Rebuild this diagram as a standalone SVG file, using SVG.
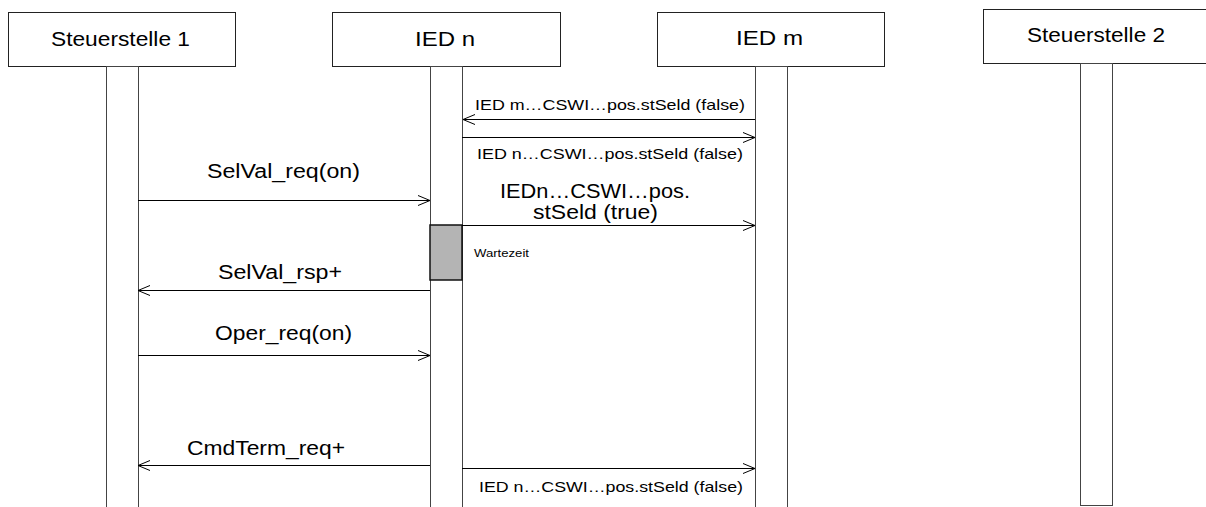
<svg xmlns="http://www.w3.org/2000/svg" width="1206" height="507" viewBox="0 0 1206 507">
  <style>
    text { font-family: "Liberation Sans", Arial, sans-serif; fill: #000; }
    .title { font-size: 20px; }
    .msg { font-size: 20px; }
    .small { font-size: 15px; }
    .tiny { font-size: 10px; }
    .box { fill: #fff; stroke: #222; stroke-width: 1; }
    .bar { fill: #fff; stroke: #444; stroke-width: 1; }
    .wait { fill: #b4b4b4; stroke: #111; stroke-width: 1.5; }
    .arrow { stroke: #000; stroke-width: 1; fill: none; marker-end: url(#open); }
  </style>
  <defs>
    <marker id="open" viewBox="0 0 12 12" refX="12" refY="6" markerWidth="12" markerHeight="12" markerUnits="userSpaceOnUse" orient="auto">
      <path d="M0,1 L12,6 L0,11" fill="none" stroke="#000" stroke-width="1"/>
    </marker>
  </defs>
  <rect width="1206" height="507" fill="#fff"/>

  <g id="steuerstelle1">
    <rect class="box" x="8.5" y="12.5" width="227" height="54"/>
    <text class="title" x="51" y="46" textLength="139" lengthAdjust="spacingAndGlyphs">Steuerstelle 1</text>
    <rect class="bar" x="106.5" y="66.5" width="32" height="445"/>
  </g>

  <g id="iedn">
    <rect class="box" x="332.5" y="12.5" width="228" height="54"/>
    <text class="title" x="415" y="46" textLength="60" lengthAdjust="spacingAndGlyphs">IED n</text>
    <rect class="bar" x="430.5" y="66.5" width="32" height="445"/>
  </g>

  <g id="iedm">
    <rect class="box" x="657.5" y="12.5" width="227" height="54"/>
    <text class="title" x="736" y="45" textLength="67" lengthAdjust="spacingAndGlyphs">IED m</text>
    <rect class="bar" x="755.5" y="66.5" width="32" height="445"/>
  </g>

  <g id="steuerstelle2">
    <rect class="box" x="983.5" y="9.5" width="230" height="54"/>
    <text class="title" x="1027" y="42" textLength="138" lengthAdjust="spacingAndGlyphs">Steuerstelle 2</text>
    <rect class="bar" x="1080.5" y="63.5" width="32" height="442"/>
  </g>

  <g id="wartezeit">
    <rect class="wait" x="430" y="225" width="32" height="55"/>
    <text class="tiny" x="474" y="257" textLength="55" lengthAdjust="spacingAndGlyphs">Wartezeit</text>
  </g>

  <g id="connectors">
    <line class="arrow" x1="755" y1="119.5" x2="463" y2="119.5"/>
    <text class="small" x="475" y="110" textLength="270" lengthAdjust="spacingAndGlyphs">IED m…CSWI…pos.stSeld (false)</text>

    <line class="arrow" x1="462" y1="137.5" x2="755" y2="137.5"/>
    <text class="small" x="477" y="159" textLength="266" lengthAdjust="spacingAndGlyphs">IED n…CSWI…pos.stSeld (false)</text>

    <line class="arrow" x1="138" y1="200.5" x2="430" y2="200.5"/>
    <text class="msg" x="207" y="178" textLength="153" lengthAdjust="spacingAndGlyphs">SelVal_req(on)</text>

    <line class="arrow" x1="462" y1="225.5" x2="755" y2="225.5"/>
    <text class="msg" x="500" y="198" textLength="190" lengthAdjust="spacingAndGlyphs">IEDn…CSWI…pos.</text>
    <text class="msg" x="533" y="219" textLength="125" lengthAdjust="spacingAndGlyphs">stSeld (true)</text>

    <line class="arrow" x1="430" y1="290.5" x2="138" y2="290.5"/>
    <text class="msg" x="218" y="279" textLength="124" lengthAdjust="spacingAndGlyphs">SelVal_rsp+</text>

    <line class="arrow" x1="138" y1="355.5" x2="430" y2="355.5"/>
    <text class="msg" x="215" y="340" textLength="137" lengthAdjust="spacingAndGlyphs">Oper_req(on)</text>

    <line class="arrow" x1="430" y1="465.5" x2="138" y2="465.5"/>
    <text class="msg" x="187" y="455" textLength="158" lengthAdjust="spacingAndGlyphs">CmdTerm_req+</text>

    <line class="arrow" x1="462" y1="468.5" x2="755" y2="468.5"/>
    <text class="small" x="479" y="492" textLength="264" lengthAdjust="spacingAndGlyphs">IED n…CSWI…pos.stSeld (false)</text>
  </g>
</svg>
